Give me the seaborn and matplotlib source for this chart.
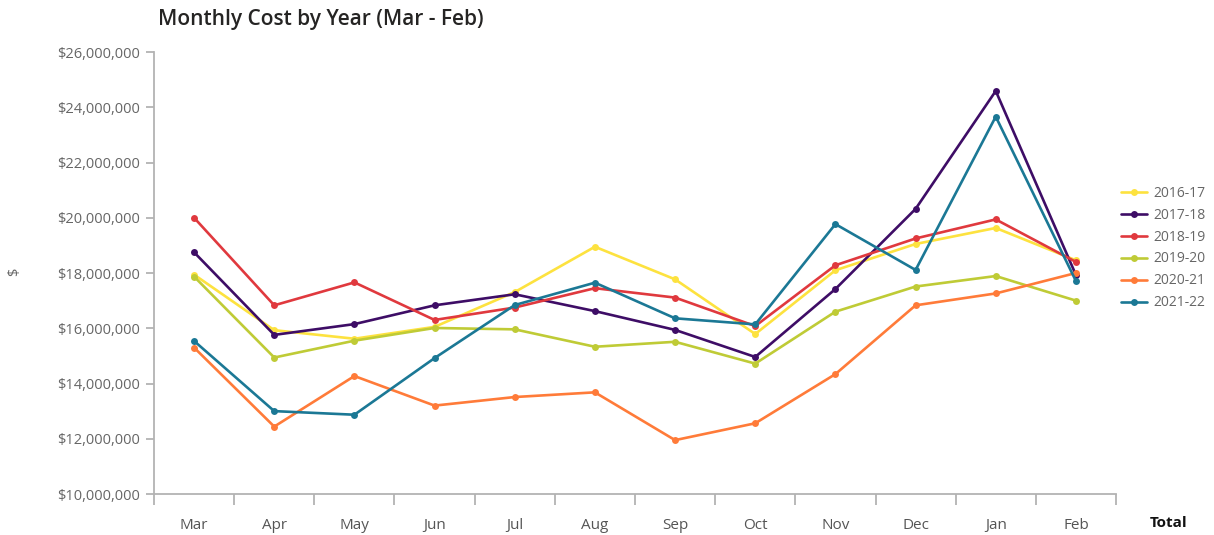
import matplotlib
matplotlib.use('Agg')
import matplotlib.pyplot as plt
import matplotlib.ticker as mticker
import pandas as pd
import seaborn as sns

# Fiscal months (Mar - Feb)
MONTHS = ['Mar', 'Apr', 'May', 'Jun', 'Jul', 'Aug', 'Sep', 'Oct', 'Nov', 'Dec', 'Jan', 'Feb']
YEARS = ['2016-17', '2017-18', '2018-19', '2019-20', '2020-21', '2021-22']

# Monthly cost, millions of dollars
COST_2016_17 = [17.94, 15.93, 15.62, 16.05, 17.31, 18.95, 17.77, 15.79, 18.10, 19.05, 19.63, 18.46]
COST_2017_18 = [18.75, 15.76, 16.15, 16.83, 17.23, 16.62, 15.94, 14.96, 17.42, 20.32, 24.59, 17.93]
COST_2018_19 = [20.00, 16.83, 17.66, 16.30, 16.75, 17.45, 17.11, 16.08, 18.28, 19.25, 19.94, 18.40]
COST_2019_20 = [17.87, 14.94, 15.55, 16.01, 15.96, 15.33, 15.51, 14.72, 16.60, 17.51, 17.89, 17.00]
COST_2020_21 = [15.30, 12.44, 14.27, 13.20, 13.51, 13.68, 11.95, 12.56, 14.34, 16.83, 17.26, 18.00]
COST_2021_22 = [15.54, 13.00, 12.87, 14.92, 16.84, 17.65, 16.36, 16.14, 19.77, 18.11, 23.66, 17.71]

COLORS = ['#FDE23F', '#3E0D66', '#E0393E', '#BFCB36', '#FF7B39', '#1B7895']

series = [COST_2016_17, COST_2017_18, COST_2018_19, COST_2019_20, COST_2020_21, COST_2021_22]
rows = []
for year, values in zip(YEARS, series):
    for month, v in zip(MONTHS, values):
        rows.append({'Month': month, 'Year': year, 'Cost': v * 1_000_000})
df = pd.DataFrame(rows)

sns.set_theme(style='white')
plt.rcParams['font.family'] = ['Open Sans', 'DejaVu Sans']

GRID = '#B3B3B3'
TICK_TEXT = '#666666'

fig = plt.figure(figsize=(12.14, 5.35), dpi=100)
ax = fig.add_axes([154 / 1214, 41 / 535, 962 / 1214, 442 / 535])

sns.lineplot(
    data=df, x='Month', y='Cost', hue='Year', palette=COLORS,
    marker='o', markersize=5, markeredgewidth=0, linewidth=1.9, ax=ax,
)

ax.set_ylim(10_000_000, 26_000_000)
ax.set_xlim(-0.5, len(MONTHS) - 0.5)
ax.yaxis.set_major_locator(mticker.MultipleLocator(2_000_000))
ax.yaxis.set_major_formatter(mticker.FuncFormatter(lambda v, _: f'${v:,.0f}'))

# category boundaries get the tick marks, labels sit in the middle
ax.xaxis.set_minor_locator(mticker.FixedLocator([i - 0.5 for i in range(len(MONTHS) + 1)]))
ax.tick_params(axis='x', which='major', length=0, pad=17, labelsize=11, labelcolor='#555555')
ax.tick_params(axis='x', which='minor', length=8, width=1.3, color=GRID, direction='out')
ax.tick_params(axis='y', which='major', length=6, width=1.3, color=GRID, direction='out',
               pad=4, labelsize=10.5, labelcolor=TICK_TEXT)
ax.xaxis.set_ticks_position('bottom')
ax.yaxis.set_ticks_position('left')

for side in ['top', 'right']:
    ax.spines[side].set_visible(False)
for side in ['left', 'bottom']:
    ax.spines[side].set_color(GRID)
    ax.spines[side].set_linewidth(1.3)

ax.set_xlabel('')
ax.set_ylabel('')

leg = ax.legend(
    loc='center left', bbox_to_anchor=(1121 / 1214, 1 - 248 / 535),
    bbox_transform=fig.transFigure, frameon=False,
    fontsize=10, handlelength=1.85, handletextpad=0.5, labelspacing=0.5,
    borderaxespad=0, borderpad=0,
)
for t in leg.get_texts():
    t.set_color(TICK_TEXT)

fig.text(158 / 1214, 1 - 19 / 535, 'Monthly Cost by Year (Mar - Feb)', ha='left', va='center',
         fontsize=15, fontweight='semibold', color='#252423')
fig.text(15 / 1214, 1 - 272 / 535, '$', rotation=90, ha='center', va='center',
         fontsize=10.5, color=TICK_TEXT)
fig.text(1169 / 1214, 1 - 523 / 535, 'Total', ha='center', va='center',
         fontsize=11, fontweight='bold', color='#111111')

fig.savefig('out.png', dpi=100)
